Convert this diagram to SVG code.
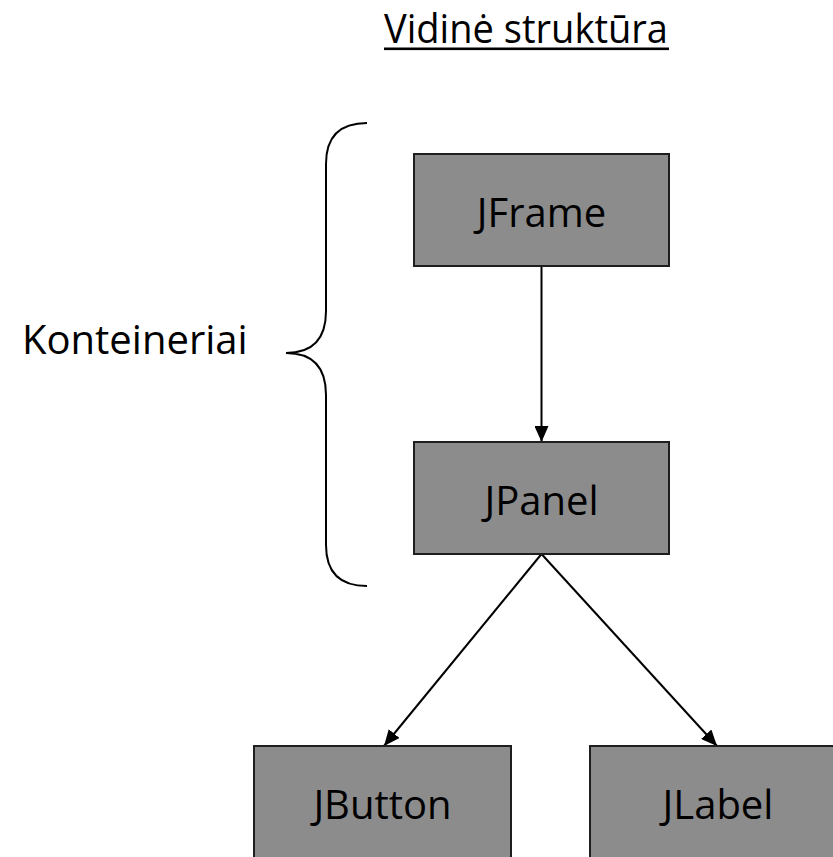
<svg xmlns="http://www.w3.org/2000/svg" width="833" height="857" viewBox="0 0 833 857">
  <style>
    .lbl { font-family: "Open Sans", "Noto Sans", "Liberation Sans", sans-serif; font-size: 40px; fill: #000; }
    .mid { text-anchor: middle; }
    .box { fill: #8c8c8c; stroke: #1e1e1e; stroke-width: 2; }
    .edge { stroke: #000; stroke-width: 2; fill: none; marker-end: url(#head); }
    .brace { stroke: #000; stroke-width: 2; fill: none; }
  </style>
  <defs>
    <marker id="head" viewBox="0 0 16 14" refX="16" refY="7" markerWidth="16" markerHeight="14" markerUnits="userSpaceOnUse" orient="auto">
      <path d="M0,0 L16,7 L0,14 Z" fill="#000"/>
    </marker>
  </defs>
  <rect width="833" height="857" fill="#fff"/>

  <!-- heading -->
  <g id="title">
    <text class="lbl" x="384" y="43" font-size="38" textLength="284" lengthAdjust="spacingAndGlyphs">Vidinė struktūra</text>
    <rect x="384" y="47.5" width="285" height="2.6" fill="#000"/>
  </g>

  <!-- grouping brace with its label -->
  <g id="containers">
    <path class="brace" d="M367,123 Q326,123 326,164 L326,311 Q326,353 286,353 Q326,353 326,395 L326,545 Q326,586 367,586"/>
    <text class="lbl" x="22" y="354">Konteineriai</text>
  </g>

  <!-- connectors -->
  <g id="connectors">
    <path class="edge" d="M541.5,266 L541.5,442"/>
    <path class="edge" d="M541.5,554 L384,746"/>
    <path class="edge" d="M541.5,554 L717,746"/>
  </g>

  <g id="jframe">
    <rect class="box" x="414" y="154" width="255" height="112"/>
    <text class="lbl mid" x="541.5" y="227">JFrame</text>
  </g>
  <g id="jpanel">
    <rect class="box" x="414" y="442" width="255" height="112"/>
    <text class="lbl mid" x="541.5" y="515">JPanel</text>
  </g>
  <g id="jbutton">
    <rect class="box" x="254" y="746" width="257" height="130"/>
    <text class="lbl mid" x="382.5" y="819">JButton</text>
  </g>
  <g id="jlabel">
    <rect class="box" x="590" y="746" width="257" height="130"/>
    <text class="lbl mid" x="718" y="819">JLabel</text>
  </g>
</svg>
